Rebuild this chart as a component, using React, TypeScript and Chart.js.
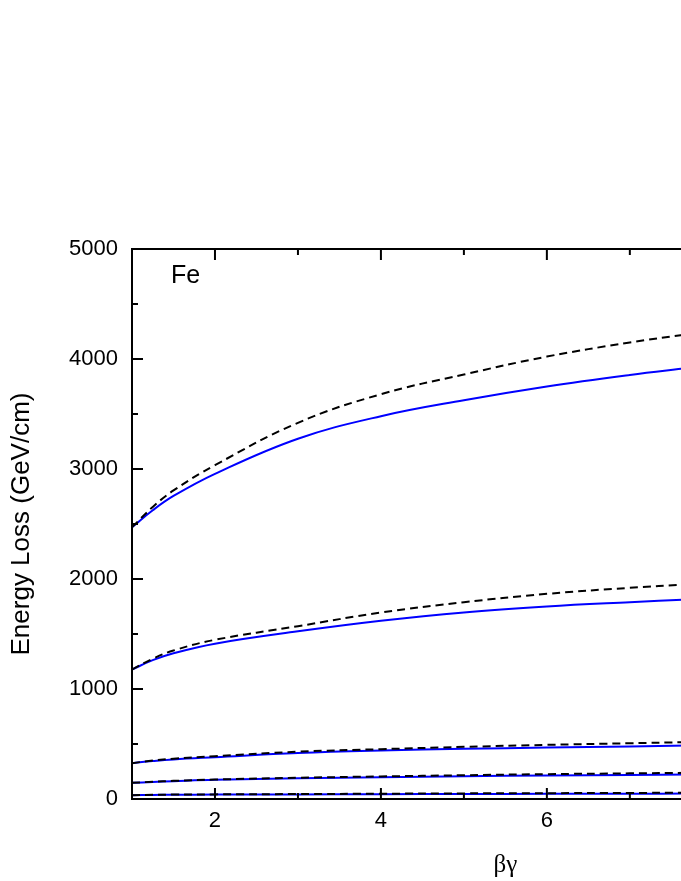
import React, { useEffect, useRef } from "react";
import { Chart, registerables } from "chart.js";

Chart.register(...registerables);

const betaGamma = [1, 1.25, 1.5, 2, 3, 4, 5, 6, 7, 7.7];

const blue1 = [2470, 2625, 2755, 2956, 3275, 3480, 3625, 3750, 3855, 3918];
const dash1 = [2470, 2655, 2805, 3035, 3420, 3680, 3859, 4022, 4150, 4225];
const blue2 = [1177, 1262, 1325, 1412, 1524, 1620, 1696, 1750, 1789, 1813];
const dash2 = [1177, 1275, 1350, 1447, 1571, 1695, 1789, 1865, 1920, 1950];
const blue3 = [326, 345, 360, 380, 418, 441, 456, 468, 477, 487];
const dash3 = [326, 349, 366, 389, 430, 453, 474, 492, 507, 517];
const blue4 = [147, 155, 162, 174, 188, 198, 207, 214, 219, 223];
const dash4 = [147, 157, 165, 177, 193, 205, 216, 226, 233, 238];
const blue5 = [35, 37, 38, 40, 42, 44, 46, 47, 48, 49];
const dash5 = [35, 38, 40, 42, 45, 48, 51, 53, 55, 57];

const xMajorTicks = [2, 4, 6, 8, 10];
const yMajorTicks = [0, 1000, 2000, 3000, 4000, 5000];
const materialLabel = "Fe";

const CANVAS_W = 900;
const CANVAS_H = 881;

function pts(ys: number[]) {
  return betaGamma.map((x, i) => ({ x, y: ys[i] }));
}

const framePlugin = {
  id: "frame",
  afterDraw(chart: any) {
    const { ctx, chartArea } = chart;
    const { left, right, top, bottom } = chartArea;
    const xs = chart.scales.x;
    const ys = chart.scales.y;
    ctx.save();
    ctx.strokeStyle = "#000";
    ctx.lineWidth = 2;
    ctx.lineCap = "butt";
    ctx.beginPath();
    ctx.moveTo(left, top);
    ctx.lineTo(right, top);
    ctx.lineTo(right, bottom);
    ctx.lineTo(left, bottom);
    ctx.closePath();
    ctx.stroke();
    xs.ticks.forEach((t: any) => {
      const v = t.value;
      if (v <= xs.min || v >= xs.max) return;
      const p = xs.getPixelForValue(v);
      const len = xMajorTicks.includes(v) ? 11 : 6;
      ctx.beginPath();
      ctx.moveTo(p, bottom);
      ctx.lineTo(p, bottom - len);
      ctx.moveTo(p, top);
      ctx.lineTo(p, top + len);
      ctx.stroke();
    });
    ys.ticks.forEach((t: any) => {
      const v = t.value;
      if (v <= ys.min || v >= ys.max) return;
      const p = ys.getPixelForValue(v);
      const len = yMajorTicks.includes(v) ? 11 : 6;
      ctx.beginPath();
      ctx.moveTo(left, p);
      ctx.lineTo(left + len, p);
      ctx.moveTo(right, p);
      ctx.lineTo(right - len, p);
      ctx.stroke();
    });
    ctx.fillStyle = "#000";
    ctx.font = "25px 'Liberation Sans', Arial, sans-serif";
    ctx.textAlign = "left";
    ctx.textBaseline = "alphabetic";
    ctx.fillText(materialLabel, left + 39, top + 34);
    ctx.restore();
  },
};

export default function App() {
  const ref = useRef<HTMLCanvasElement | null>(null);
  useEffect(() => {
    if (!ref.current) return;
    const blueStyle = {
      borderColor: "rgb(0,0,255)",
      borderWidth: 2,
      pointRadius: 0,
      fill: false,
      tension: 0.4,
      order: 2,
    };
    const dashStyle = {
      borderColor: "#000",
      borderWidth: 2,
      borderDash: [8, 5],
      pointRadius: 0,
      fill: false,
      tension: 0.4,
      order: 1,
    };
    const chart = new Chart(ref.current, {
      type: "line",
      data: {
        datasets: [
          { label: "b1", data: pts(blue1), ...blueStyle },
          { label: "d1", data: pts(dash1), ...dashStyle },
          { label: "b2", data: pts(blue2), ...blueStyle },
          { label: "d2", data: pts(dash2), ...dashStyle },
          { label: "b3", data: pts(blue3), ...blueStyle },
          { label: "d3", data: pts(dash3), ...dashStyle },
          { label: "b4", data: pts(blue4), ...blueStyle },
          { label: "d4", data: pts(dash4), ...dashStyle },
          { label: "b5", data: pts(blue5), ...blueStyle },
          { label: "d5", data: pts(dash5), ...dashStyle },
        ],
      },
      options: {
        animation: false,
        responsive: false,
        maintainAspectRatio: false,
        devicePixelRatio: 1,
        layout: { padding: { left: 0, top: 249, right: CANVAS_W - 882, bottom: 0 } },
        plugins: { legend: { display: false }, tooltip: { enabled: false } },
        scales: {
          x: {
            type: "linear",
            position: "bottom",
            min: 1,
            max: 10,
            grid: { display: false, drawTicks: false },
            border: { display: false },
            ticks: {
              stepSize: 1,
              autoSkip: false,
              maxRotation: 0,
              padding: 9,
              color: "#000",
              font: { family: "'Liberation Sans', Arial, sans-serif", size: 22 },
              callback: (v: any) => (xMajorTicks.includes(Number(v)) ? String(v) : ""),
            },
            title: {
              display: true,
              text: "βγ",
              color: "#000",
              font: { family: "'Liberation Serif', serif", size: 25 },
              padding: { top: 0, bottom: 1 },
            },
            afterFit: (s: any) => {
              s.height = CANVAS_H - 799;
            },
          },
          y: {
            type: "linear",
            position: "left",
            min: 0,
            max: 5000,
            grid: { display: false, drawTicks: false },
            border: { display: false },
            ticks: {
              stepSize: 500,
              autoSkip: false,
              padding: 14,
              color: "#000",
              font: { family: "'Liberation Sans', Arial, sans-serif", size: 22 },
              callback: (v: any) => (yMajorTicks.includes(Number(v)) ? String(v) : ""),
            },
            title: {
              display: true,
              text: "Energy Loss (GeV/cm)",
              color: "#000",
              font: { family: "'Liberation Sans', Arial, sans-serif", size: 26 },
              padding: { top: 6, bottom: 0 },
            },
            afterFit: (s: any) => {
              s.width = 132;
            },
          },
        },
      },
      plugins: [framePlugin],
    });
    return () => chart.destroy();
  }, []);
  return (
    <div
      style={{
        position: "absolute",
        left: 0,
        top: 0,
        width: 681,
        height: CANVAS_H,
        overflow: "hidden",
        background: "#fff",
      }}
    >
      <canvas
        ref={ref}
        width={CANVAS_W}
        height={CANVAS_H}
        style={{ width: CANVAS_W, height: CANVAS_H, display: "block" }}
      />
    </div>
  );
}
